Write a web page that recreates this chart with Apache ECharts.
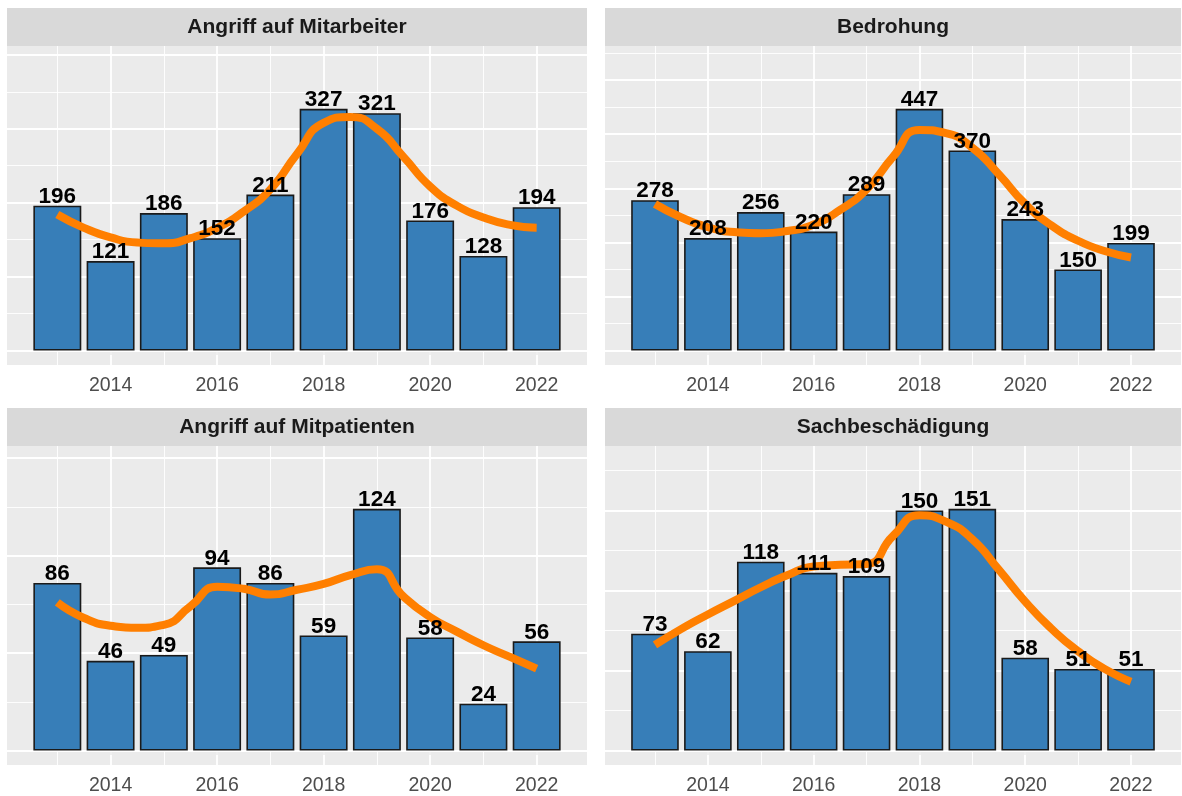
<!DOCTYPE html>
<html>
<head>
<meta charset="utf-8">
<script src="https://cdn.jsdelivr.net/npm/echarts@6/dist/echarts.min.js"></script>
<style>
  html, body { margin: 0; padding: 0; background: #ffffff; }
  #chart { width: 1182px; height: 796px; }
</style>
</head>
<body>
<div id="chart"></div>
<script>
// Yearly incident counts, one facet per incident type
const years = [2013, 2014, 2015, 2016, 2017, 2018, 2019, 2020, 2021, 2022];
const tickYears = [2014, 2016, 2018, 2020, 2022];
const tickLabels = ['2014', '2016', '2018', '2020', '2022'];
const panelTitles = ['Angriff auf Mitarbeiter', 'Bedrohung', 'Angriff auf Mitpatienten', 'Sachbeschädigung'];

const angriffMitarbeiter = [196, 121, 186, 152, 211, 327, 321, 176, 128, 194];
const bedrohung = [278, 208, 256, 220, 289, 447, 370, 243, 150, 199];
const angriffMitpatienten = [86, 46, 49, 94, 86, 59, 124, 58, 24, 56];
const sachbeschaedigung = [73, 62, 118, 111, 109, 150, 151, 58, 51, 51];

// Smoothed trend, sampled every half year
const trendYears = [2013, 2013.5, 2014, 2014.5, 2015, 2015.5, 2016, 2016.5, 2017, 2017.5,
                    2018, 2018.5, 2019, 2019.5, 2020, 2020.5, 2021, 2021.5, 2022];
const trendMitarbeiter = [184, 166, 153, 146, 145, 152, 166, 188, 218, 266, 308, 316, 300, 262, 222, 196, 180, 170, 166];
const trendBedrohung = [271, 246, 228, 219, 217, 221, 233, 260, 298, 358, 408, 402, 375, 326, 271, 231, 203, 184, 172];
const trendMitpatienten = [76, 68, 64, 63, 64.5, 74, 84, 83, 80, 82.5, 85.5, 90, 93, 79, 68.5, 61, 54, 48, 42];
const trendSachbeschaedigung = [66, 76, 85, 93.5, 102, 109.5, 115, 116, 116.5, 134, 147, 143, 132, 113, 93, 76, 62, 51, 43];

const yBreakSteps = [100, 100, 50, 50];

const barValues = [angriffMitarbeiter, bedrohung, angriffMitpatienten, sachbeschaedigung];
const trendValues = [trendMitarbeiter, trendBedrohung, trendMitpatienten, trendSachbeschaedigung];

const FONT = '"Liberation Sans", Arial, Helvetica, sans-serif';
const panels = [
  { left: 7, top: 46, width: 580, height: 319 },
  { left: 605, top: 46, width: 576, height: 319 },
  { left: 7, top: 446, width: 580, height: 319 },
  { left: 605, top: 446, width: 576, height: 319 }
];
const STRIP_H = 38;

// x scale: bars of width 0.9 plus 5% padding
const xLo = years[0] - 0.45, xHi = years[years.length - 1] + 0.45;
const xPad = 0.05 * (xHi - xLo);
const xMin = xLo - xPad, xMax = xHi + xPad;

const grids = [], xAxes = [], yAxes = [], series = [], graphics = [];

panels.forEach((p, i) => {
  const vals = barValues[i];
  const top = 1.2 * Math.max.apply(null, vals);
  const yMin = -0.05 * top, yMax = 1.05 * top;
  const step = yBreakSteps[i];

  // background grid lines
  const lines = [];
  for (let v = Math.ceil(yMin / step) * step; v <= yMax; v += step) {
    lines.push({ yAxis: v, lineStyle: { color: '#ffffff', width: 1.8, type: 'solid' } });
  }
  for (let v = Math.ceil(yMin / step - 0.5) * step + step / 2; v <= yMax; v += step) {
    if (v >= yMin) lines.push({ yAxis: v, lineStyle: { color: '#ffffff', width: 0.9, type: 'solid' } });
  }
  for (let x = Math.ceil(xMin); x <= xMax; x++) {
    const major = tickYears.indexOf(x) >= 0;
    lines.push({ xAxis: x, lineStyle: { color: '#ffffff', width: major ? 1.8 : 0.9, type: 'solid' } });
  }

  grids.push({
    left: p.left, top: p.top, width: p.width, height: p.height,
    show: true, backgroundColor: '#EBEBEB', borderWidth: 0,
    containLabel: false, outerBoundsMode: 'none'
  });

  xAxes.push({
    type: 'value', gridIndex: i, min: xMin, max: xMax,
    axisLine: { show: false },
    axisTick: { show: true, customValues: tickYears, length: 4.5, inside: false,
                lineStyle: { color: '#333333', width: 1.5 } },
    axisLabel: { show: true, customValues: tickYears, margin: 11, color: '#4D4D4D',
                 fontSize: 19.5, fontFamily: FONT,
                 formatter: v => tickLabels[tickYears.indexOf(Math.round(v))] || '' },
    splitLine: { show: false }, minorTick: { show: false }, minorSplitLine: { show: false }
  });

  yAxes.push({
    type: 'value', gridIndex: i, min: yMin, max: yMax,
    axisLine: { show: false }, axisTick: { show: false }, axisLabel: { show: false },
    splitLine: { show: false }
  });

  const barWidth = p.width * 0.9 / (xMax - xMin);
  const barData = years.map((y, j) => [y, vals[j]]);

  series.push({
    type: 'bar', xAxisIndex: i, yAxisIndex: i, z: 2,
    barWidth: barWidth,
    data: barData,
    itemStyle: { color: '#377EB8', borderColor: '#1a1a1a', borderWidth: 1.6 },
    markLine: { silent: true, symbol: 'none', z: 1, animation: false,
                label: { show: false }, emphasis: { disabled: true }, data: lines }
  });

  series.push({
    type: 'line', xAxisIndex: i, yAxisIndex: i, z: 4,
    smooth: 0.55, showSymbol: false, symbol: 'none',
    data: trendYears.map((x, j) => [x, trendValues[i][j]]),
    lineStyle: { color: '#FF7F00', width: 8, cap: 'butt', join: 'round' }
  });

  // value labels above each bar, drawn over the trend line
  series.push({
    type: 'custom', xAxisIndex: i, yAxisIndex: i, z: 6, silent: true,
    data: barData,
    renderItem: (params, api) => {
      const pt = api.coord([api.value(0), api.value(1)]);
      return {
        type: 'text', x: pt[0], y: pt[1] + 2.5,
        style: { text: String(api.value(1)), fill: '#000000',
                 font: 'bold 22.5px ' + FONT, align: 'center', verticalAlign: 'bottom' }
      };
    }
  });

  graphics.push({
    type: 'rect', left: p.left, top: p.top - STRIP_H,
    shape: { width: p.width, height: STRIP_H }, style: { fill: '#D9D9D9' }, silent: true
  });
  graphics.push({
    type: 'text', x: p.left + p.width / 2, y: p.top - STRIP_H / 2,
    style: { text: panelTitles[i], fill: '#1A1A1A', font: 'bold 21px ' + FONT,
             textAlign: 'center', textVerticalAlign: 'middle' }, silent: true
  });
});

const chart = echarts.init(document.getElementById('chart'), null, { renderer: 'canvas' });
chart.setOption({
  animation: false,
  backgroundColor: '#ffffff',
  grid: grids, xAxis: xAxes, yAxis: yAxes, series: series, graphic: graphics
});
</script>
</body>
</html>
